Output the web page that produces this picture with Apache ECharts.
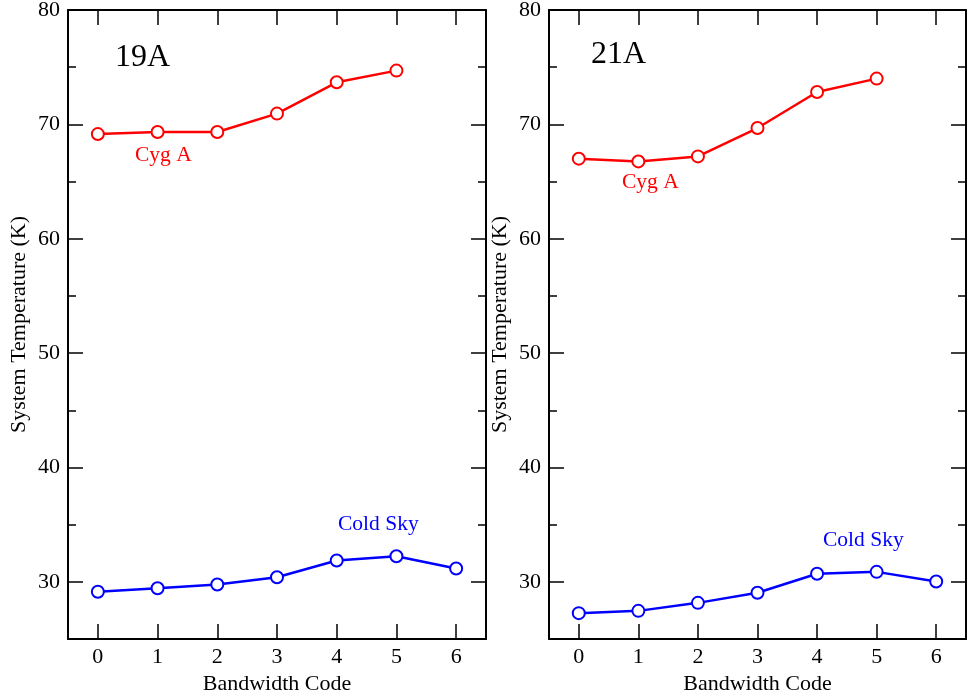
<!DOCTYPE html>
<html>
<head>
<meta charset="utf-8">
<script src="https://cdn.jsdelivr.net/npm/echarts@6/dist/echarts.min.js"></script>
<style>
  html, body { margin: 0; padding: 0; background: #fff; }
  #chart { width: 969px; height: 696px; }
</style>
</head>
<body>
<div id="chart"></div>
<script>
'use strict';

var bwCodes = ['0', '1', '2', '3', '4', '5', '6'];
var yMajor = [30, 40, 50, 60, 70, 80];
var yMinor = [35, 45, 55, 65, 75];

var cyg19 = [69.15, 69.33, 69.33, 70.94, 73.68, 74.7];
var cold19 = [29.13, 29.44, 29.76, 30.4, 31.86, 32.24, 31.16];
var cyg21 = [67.0, 66.76, 67.2, 69.68, 72.83, 74.0];
var cold21 = [27.26, 27.46, 28.16, 29.04, 30.7, 30.87, 30.03];

var FONT = '"Liberation Serif", "DejaVu Serif", serif';
var RED = '#ff0000', BLUE = '#0000ff';
var tickStyle = { color: '#000', width: 1.5 };
var line = { show: true, onZero: false, lineStyle: { color: '#000', width: 2 } };

function xAxes(grid) {
    var base = {
        type: 'category',
        gridIndex: grid,
        data: bwCodes,
        boundaryGap: true,
        axisLine: line,
        axisTick: { show: true, inside: true, length: 15, alignWithLabel: true, lineStyle: tickStyle },
        splitLine: { show: false }
    };
    var bottom = Object.assign({}, base, {
        position: 'bottom',
        name: 'Bandwidth Code',
        nameLocation: 'middle',
        nameGap: 23,
        nameTextStyle: { fontFamily: FONT, fontSize: 22, color: '#000' },
        axisLabel: { fontFamily: FONT, fontSize: 22, color: '#000', margin: 7 }
    });
    var top = Object.assign({}, base, {
        position: 'top',
        axisLabel: { show: false }
    });
    return [bottom, top];
}

function yAxes(grid) {
    var base = { type: 'value', gridIndex: grid, min: 25, max: 80, splitLine: { show: false } };
    return [
        Object.assign({}, base, {
            position: 'left',
            name: 'System Temperature (K)',
            nameLocation: 'middle',
            nameGap: 38,
            nameTextStyle: { fontFamily: FONT, fontSize: 22, color: '#000' },
            axisLine: line,
            axisTick: { show: true, inside: true, length: 15, customValues: yMajor, lineStyle: tickStyle },
            axisLabel: { customValues: yMajor, fontFamily: FONT, fontSize: 22, color: '#000', margin: 8 }
        }),
        Object.assign({}, base, {
            position: 'left',
            axisLine: { show: false },
            axisTick: { show: true, inside: true, length: 8, customValues: yMinor, lineStyle: tickStyle },
            axisLabel: { show: false }
        }),
        Object.assign({}, base, {
            position: 'right',
            axisLine: line,
            axisTick: { show: true, inside: true, length: 15, customValues: yMajor, lineStyle: tickStyle },
            axisLabel: { show: false }
        }),
        Object.assign({}, base, {
            position: 'right',
            axisLine: { show: false },
            axisTick: { show: true, inside: true, length: 8, customValues: yMinor, lineStyle: tickStyle },
            axisLabel: { show: false }
        })
    ];
}

function lineSeries(data, color, xi, yi) {
    return {
        type: 'line',
        data: data,
        xAxisIndex: xi,
        yAxisIndex: yi,
        symbol: 'emptyCircle',
        symbolSize: 12,
        lineStyle: { color: color, width: 2.5 },
        itemStyle: { color: color, borderColor: color, borderWidth: 1.5 },
        animation: false,
        z: 3
    };
}

function label(text, x, y, color, size) {
    return {
        type: 'text',
        x: x,
        y: y,
        style: {
            text: text,
            fill: color,
            font: size + 'px ' + FONT,
            verticalAlign: 'middle'
        }
    };
}

var options = {
    backgroundColor: '#fff',
    animation: false,
    grid: [
        { left: 68, right: 483, top: 10, bottom: 57, outerBoundsMode: 'none' },
        { left: 549, right: 3, top: 10, bottom: 57, outerBoundsMode: 'none' }
    ],
    xAxis: xAxes(0).concat(xAxes(1)),
    yAxis: yAxes(0).concat(yAxes(1)),
    series: [
        lineSeries(cyg19, RED, 0, 0),
        lineSeries(cold19, BLUE, 0, 0),
        lineSeries(cyg21, RED, 2, 4),
        lineSeries(cold21, BLUE, 2, 4)
    ],
    graphic: [
        label('19A', 115, 58, '#000', 32),
        label('Cyg A', 135, 155, RED, 21.5),
        label('Cold Sky', 338, 524, BLUE, 21.5),
        label('21A', 591, 55, '#000', 32),
        label('Cyg A', 622, 182, RED, 21.5),
        label('Cold Sky', 823, 540, BLUE, 21.5)
    ]
};

var myChart = echarts.init(document.getElementById('chart'));
myChart.setOption(options);
</script>
</body>
</html>
